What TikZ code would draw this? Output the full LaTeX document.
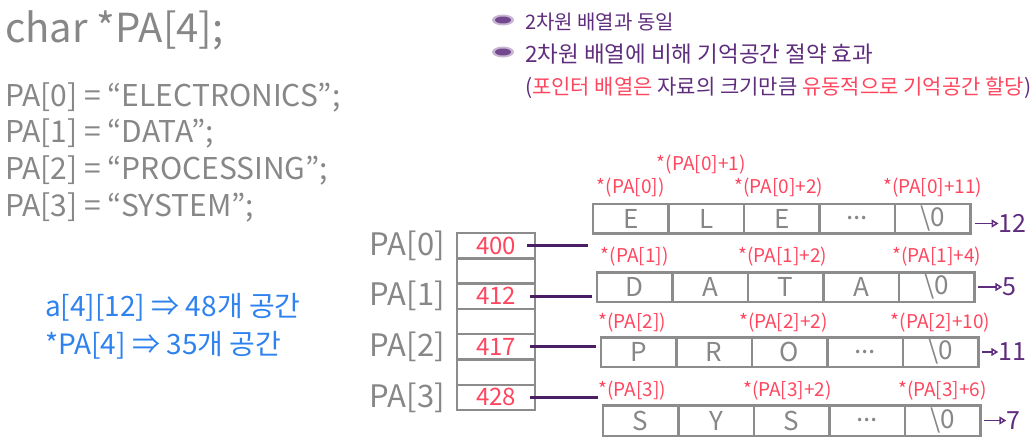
\documentclass[tikz,border=0pt]{standalone}
\usepackage{fontspec}
\setmainfont{Noto Sans CJK KR}
\usetikzlibrary{positioning,arrows.meta}
\definecolor{HandGray}{RGB}{135,135,135}
\definecolor{BoxGray}{RGB}{140,140,140}
\definecolor{HandRed}{RGB}{255,70,95}
\definecolor{HandPurple}{RGB}{95,45,125}
\definecolor{LinePurple}{RGB}{75,30,100}
\definecolor{HandBlue}{RGB}{45,130,240}

\begin{document}
\begin{tikzpicture}[x=1pt,y=-1pt,
  code/.style={anchor=west,inner sep=0pt,text=HandGray,font=\fontsize{30}{32}\selectfont},
  note/.style={anchor=west,inner sep=0pt,text=HandPurple,font=\fontsize{21}{23}\selectfont},
  space/.style={anchor=west,inner sep=0pt,text=HandBlue,font=\fontsize{28}{30}\selectfont},
  pcell/.style={draw=BoxGray,line width=2.5pt,minimum width=78pt,minimum height=25.3pt,
    inner sep=0pt,outer sep=0pt,text=HandRed,font=\fontsize{24}{26}\selectfont},
  ccell/.style={draw=BoxGray,line width=2.5pt,minimum width=75.5pt,minimum height=29.5pt,
    inner sep=0pt,outer sep=0pt,text=HandGray,font=\fontsize{26}{28}\selectfont},
  pname/.style={inner sep=0pt,text=HandGray,font=\fontsize{31}{33}\selectfont},
  deref/.style={inner sep=0pt,text=HandRed,font=\fontsize{19}{21}\selectfont},
  len/.style={inner sep=0pt,text=HandPurple,font=\fontsize{25}{27}\selectfont},
  link/.style={LinePurple,line width=3pt},
  lenarrow/.style={HandPurple,line width=1.5pt,-{Triangle[open,length=7pt,width=8pt]}}]
\useasboundingbox (0,0) rectangle (1034,439);

% declaration and assignments
\node[code,font=\fontsize{40}{42}\selectfont] (decl) at (5,30) {char *PA[4];};
\node[code] (as0) at (5,97) {PA[0] = ``ELECTRONICS'';};
\node[code] (as1) at (5,133) {PA[1] = ``DATA'';};
\node[code] (as2) at (5,170) {PA[2] = ``PROCESSING'';};
\node[code] (as3) at (5,207) {PA[3] = ``SYSTEM'';};

% space used
\node[space] (sp0) at (45,307) {a[4][12] ⇒ 48개 공간};
\node[space] (sp1) at (45,345) {*PA[4] ⇒ 35개 공간};

% notes
\fill[HandPurple,opacity=.35] (503,20) ellipse (11 and 5.5);
\fill[HandPurple,opacity=.8] (503,20) ellipse (8 and 3.5);
\fill[HandPurple,opacity=.35] (503,52) ellipse (11 and 5.5);
\fill[HandPurple,opacity=.8] (503,52) ellipse (8 and 3.5);
\node[note,font=\fontsize{20}{22}\selectfont] (nt0) at (525,22) {2차원 배열과 동일};
\node[note,font=\fontsize{22.5}{24}\selectfont] (nt1) at (525,54) {2차원 배열에 비해 기억공간 절약 효과};
\node[note] (nt2) at (525,88) {(\textcolor{HandRed}{포인터 배열은} 자료의 크기만큼 \textcolor{HandRed}{유동적으로 기억공간 할당})};

% pointer array
\node[pcell] (p0) at (496,245.6) {400};
\node[pcell,below=0pt of p0] (g0) {};
\node[pcell,below=0pt of g0] (p1) {412};
\node[pcell,below=0pt of p1] (g1) {};
\node[pcell,below=0pt of g1] (p2) {417};
\node[pcell,below=0pt of p2] (g2) {};
\node[pcell,below=0pt of g2] (p3) {428};
\node[pname,left=12pt of p0] (n0) {PA[0]};
\node[pname,left=12pt of p1] (n1) {PA[1]};
\node[pname,left=12pt of p2] (n2) {PA[2]};
\node[pname,left=12pt of p3] (n3) {PA[3]};

% strings
\node[ccell] (a0) at (630.75,218.5) {E};
\node[ccell,right=0pt of a0] (b0) {L};
\node[ccell,right=0pt of b0] (c0) {E};
\node[ccell,right=0pt of c0] (d0) {...};
\node[ccell,right=0pt of d0] (e0) {\textbackslash 0};

\node[ccell] (a1) at (634.6,287) {D};
\node[ccell,right=0pt of a1] (b1) {A};
\node[ccell,right=0pt of b1] (c1) {T};
\node[ccell,right=0pt of c1] (d1) {A};
\node[ccell,right=0pt of d1] (e1) {\textbackslash 0};

\node[ccell] (a2) at (638.5,352) {P};
\node[ccell,right=0pt of a2] (b2) {R};
\node[ccell,right=0pt of b2] (c2) {O};
\node[ccell,right=0pt of c2] (d2) {...};
\node[ccell,right=0pt of d2] (e2) {\textbackslash 0};

\node[ccell,minimum height=30.5pt] (a3) at (640.5,420.5) {S};
\node[ccell,minimum height=30.5pt,right=0pt of a3] (b3) {Y};
\node[ccell,minimum height=30.5pt,right=0pt of b3] (c3) {S};
\node[ccell,minimum height=30.5pt,right=0pt of c3] (d3) {...};
\node[ccell,minimum height=30.5pt,right=0pt of d3] (e3) {\textbackslash 0};

% element addresses
\node[deref,above=6pt of a0] (r0a) {*(PA[0])};
\node[deref,above=29pt of b0,xshift=-5pt] (r0b) {*(PA[0]+1)};
\node[deref,above=6pt of c0,xshift=-3pt] (r0c) {*(PA[0]+2)};
\node[deref,above=6pt of e0] (r0e) {*(PA[0]+11)};
\node[deref,above=6pt of a1] (r1a) {*(PA[1])};
\node[deref,above=6pt of c1,xshift=-3pt] (r1c) {*(PA[1]+2)};
\node[deref,above=6pt of e1] (r1e) {*(PA[1]+4)};
\node[deref,above=5pt of a2,xshift=-6pt] (r2a) {*(PA[2])};
\node[deref,above=5pt of c2,xshift=-6pt] (r2c) {*(PA[2]+2)};
\node[deref,above=5pt of e2] (r2e) {*(PA[2]+10)};
\node[deref,above=5pt of a3,xshift=-8pt] (r3a) {*(PA[3])};
\node[deref,above=5pt of c3,xshift=-4pt] (r3c) {*(PA[3]+2)};
\node[deref,above=5pt of e3] (r3e) {*(PA[3]+6)};

% pointers
\draw[link] ([xshift=-8pt]p0.east) -- ([xshift=-5pt]p0.east -| a0.west);
\draw[link] ([xshift=-5pt]p1.east) -- ([xshift=-5pt]p1.east -| a1.west);
\draw[link] ([xshift=-5pt]p2.east) -- ([xshift=-5pt]p2.east -| a2.west);
\draw[link] ([xshift=-5pt]p3.east) -- ([xshift=-5pt]p3.east -| a3.west);

% lengths
\node[len,right=28pt of e0,yshift=-5pt] (l0) {12};
\node[len,right=28pt of e1] (l1) {5};
\node[len,right=20pt of e2] (l2) {11};
\node[len,right=26pt of e3] (l3) {7};
\draw[lenarrow] ([xshift=4pt]e0.east |- l0) -- (l0.west);
\draw[lenarrow] ([xshift=4pt]e1.east |- l1) -- (l1.west);
\draw[lenarrow] ([xshift=4pt]e2.east |- l2) -- (l2.west);
\draw[lenarrow] ([xshift=4pt]e3.east |- l3) -- (l3.west);
\end{tikzpicture}
\end{document}
